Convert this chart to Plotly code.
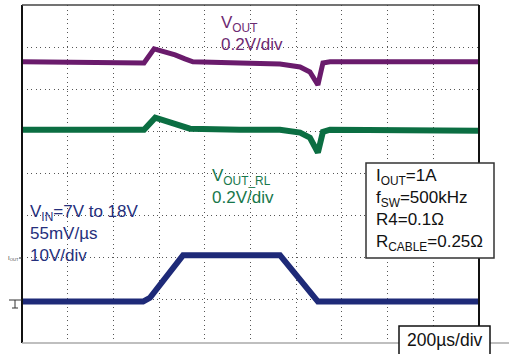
import plotly.graph_objects as go

# Time base: 200 µs/div, 10 divisions
T_DIV = 200
# Output ripple channels: deviation in mV around each channel's trace position
VOUT_T = [0, 534, 578, 626, 670, 713, 748, 954, 1129, 1217, 1260, 1295, 1317, 1348, 2000]
VOUT_MV = [0, -5, 62, 48, 33, 14, 0, -5, -10, -24, -48, -109, -5, 0, 0]
VRL_T = [0, 534, 583, 626, 670, 735, 954, 1129, 1217, 1260, 1295, 1317, 1348, 2000]
VRL_MV = [0, 0, 57, 43, 24, 5, 0, 0, -14, -38, -109, -10, 0, -5]
# Input voltage step, volts
VIN_T = [0, 530, 560, 604, 648, 705, 1129, 1295, 2000]
VIN_V = [7, 7, 7.9, 10.9, 14.2, 18, 18, 7, 7]

VOUT_SCALE = 200   # mV/div
VRL_SCALE = 200    # mV/div
VIN_SCALE = 10     # V/div
VOUT_POS = 6.65    # channel positions in divisions
VRL_POS = 5.04
VIN_REF = 7
VIN_POS = 0.96

W, H = 509, 354
L, R, T, B = 22, 479, 5, 342


def px(x):
    return (x - L) / (R - L)


def py(y):
    return (B - y) / (B - T)


FONT = "Liberation Sans, Arial, sans-serif"
PURPLE, GREEN, NAVY = "#6a1b6c", "#0b6e42", "#1e2a78"

fig = go.Figure()
fig.add_trace(go.Scatter(
    x=VOUT_T, y=[VOUT_POS + v / VOUT_SCALE for v in VOUT_MV],
    mode="lines", line=dict(color=PURPLE, width=5), hoverinfo="skip"))
fig.add_trace(go.Scatter(
    x=VRL_T, y=[VRL_POS + v / VRL_SCALE for v in VRL_MV],
    mode="lines", line=dict(color=GREEN, width=6), hoverinfo="skip"))
fig.add_trace(go.Scatter(
    x=VIN_T, y=[VIN_POS + (v - VIN_REF) / VIN_SCALE for v in VIN_V],
    mode="lines", line=dict(color=NAVY, width=6), hoverinfo="skip"))

grid = dict(showgrid=True, gridcolor="#555", gridwidth=1, griddash="1px,3.5px",
            showticklabels=False, zeroline=False, showline=False, ticks="")
fig.update_xaxes(range=[0, 10 * T_DIV], dtick=T_DIV, **grid)
fig.update_yaxes(range=[0, 8], dtick=1, **grid)


def seg(x0, y0, x1, y1, color, width):
    return dict(type="line", xref="paper", yref="paper",
                x0=px(x0), x1=px(x1), y0=py(y0), y1=py(y1),
                line=dict(color=color, width=width), layer="above")


def box(x0, y0, x1, y1, color):
    return dict(type="rect", xref="paper", yref="paper",
                x0=px(x0), x1=px(x1), y0=py(y0), y1=py(y1),
                fillcolor="white", line=dict(color=color, width=1.5), layer="above")


shapes = [
    # frame
    seg(L, T, L, 343, "#111", 2),
    seg(L, T, R, T, "#444", 1.5),
    seg(R, T, R, 326, "#111", 2),
    seg(L, 343, 509, 343, "#aaa", 1.5),
    # parameter box and time base box
    box(366, 163, 494, 258, "#333"),
    box(399, 326, 490, 357, "#111"),
    # ground reference marker
    seg(9, 300, 22, 300, "#333", 1),
    seg(15, 300, 15, 308, "#333", 1),
    seg(12, 308, 18, 308, "#333", 1),
    # current channel tick
    seg(19, 258, 22, 258, "#333", 1),
]


def label(text, x, y, color, size=17, xanchor="left"):
    return dict(text=text, x=px(x), y=py(y), xref="paper", yref="paper",
                xanchor=xanchor, yanchor="middle", align="left", showarrow=False,
                font=dict(family=FONT, size=size, color=color))


annotations = [
    label("V<sub>OUT</sub><br>0.2V/div", 219, 34, "#6d2a72"),
    label("V<sub>OUT_RL</sub><br>0.2V/div", 210, 186, "#17774b"),
    label("V<sub>IN</sub>=7V to 18V<br>55mV/µs<br>10V/div", 28, 233, "#252f7c"),
    label("I<sub>OUT</sub>=1A<br>f<sub>SW</sub>=500kHz<br>R4=0.1Ω<br>R<sub>CABLE</sub>=0.25Ω",
          374, 210, "#111"),
    label("200µs/div", 445, 340, "#111", size=17.5, xanchor="center"),
    label("I<sub>OUT</sub>", 13, 258, "#444", size=6, xanchor="center"),
]

fig.update_layout(
    width=W, height=H, margin=dict(l=L, r=W - R, t=T, b=H - B),
    paper_bgcolor="white", plot_bgcolor="white", showlegend=False,
    shapes=shapes, annotations=annotations,
)

fig.write_html("out.html", config={"displayModeBar": False})
